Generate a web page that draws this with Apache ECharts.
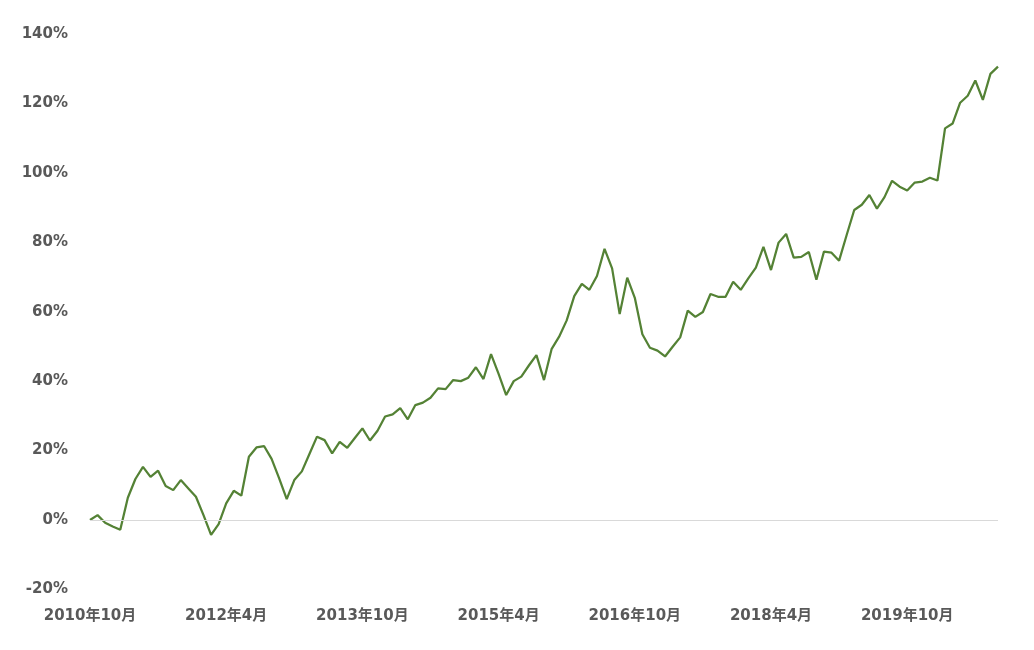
<!DOCTYPE html>
<html>
<head>
<meta charset="utf-8">
<title>累计收益率</title>
<script src="https://cdn.jsdelivr.net/npm/echarts@6/dist/echarts.min.js"></script>
<style>
  html, body { margin: 0; padding: 0; background: #fff; }
  #chart { width: 1034px; height: 650px; }
</style>
</head>
<body>
<div id="chart"></div>
<script>
// 起始月份 2010年10月，按月共121个点
var startYear = 2010;
var startMonth = 10;
var monthCount = 121;

// 累计收益率 (%)，逐月读取
var returns = [
  0, 1.4, -0.8, -1.9, -2.8, 6.4, 11.8, 15.3, 12.4, 14.2,
  9.8, 8.6, 11.5, 9.1, 6.7, 1.4, -4.3, -1.2, 4.8, 8.4,
  7.0, 18.2, 20.9, 21.3, 17.6, 12.0, 6.0, 11.5, 14.0, 19.0,
  24.0, 23.0, 19.2, 22.5, 20.8, 23.6, 26.4, 22.9, 25.7, 29.8,
  30.4, 32.2, 29.0, 33.1, 33.8, 35.2, 37.9, 37.7, 40.3, 40.0,
  41.0, 44.0, 40.6, 47.8, 42.1, 36.0, 40.0, 41.3, 44.5, 47.5,
  40.3, 49.2, 52.8, 57.5, 64.5, 68.0, 66.3, 70.3, 78.1, 72.5,
  59.3, 69.8, 64.0, 53.5, 49.6, 48.8, 47.1, 49.9, 52.6, 60.3,
  58.5, 59.9, 65.1, 64.3, 64.3, 68.6, 66.3, 69.6, 72.7, 78.7,
  72.0, 79.9, 82.4, 75.6, 75.8, 77.2, 69.2, 77.3, 77.0, 74.7,
  82.1, 89.3, 90.8, 93.6, 89.7, 93.0, 97.7, 96.0, 94.9, 97.2,
  97.5, 98.6, 97.8, 112.8, 114.2, 120.2, 122.2, 126.6, 121.0, 128.5,
  130.6
];

var months = [];
for (var i = 0; i < monthCount; i++) {
  var m = startMonth - 1 + i;
  months.push((startYear + Math.floor(m / 12)) + '年' + (m % 12 + 1) + '月');
}

var labelFont = {
  color: '#595959',
  fontSize: 15,
  fontWeight: 'bold',
  fontFamily: '"DejaVu Sans", "Noto Sans CJK SC", sans-serif'
};

var chart = echarts.init(document.getElementById('chart'));
var option = {
  animation: false,
  grid: { left: 90, right: 36, top: 34, bottom: 60.6 },
  xAxis: {
    type: 'category',
    data: months,
    boundaryGap: false,
    axisLine: { show: false },
    axisTick: { show: false },
    splitLine: { show: false },
    axisLabel: Object.assign({ interval: 17, margin: 19 }, labelFont)
  },
  yAxis: {
    type: 'value',
    min: -20,
    max: 140,
    interval: 20,
    axisLine: { show: false },
    axisTick: { show: false },
    splitLine: { show: false },
    axisLabel: Object.assign({ formatter: '{value}%', margin: 22 }, labelFont)
  },
  series: [{
    type: 'line',
    data: returns,
    symbol: 'none',
    lineStyle: { color: '#548235', width: 2.25 },
    itemStyle: { color: '#548235' },
    markLine: {
      silent: true,
      symbol: 'none',
      label: { show: false },
      lineStyle: { color: '#d9d9d9', width: 1, type: 'solid' },
      data: [{ yAxis: 0 }]
    },
    z: 3
  }]
};
chart.setOption(option);
</script>
</body>
</html>
